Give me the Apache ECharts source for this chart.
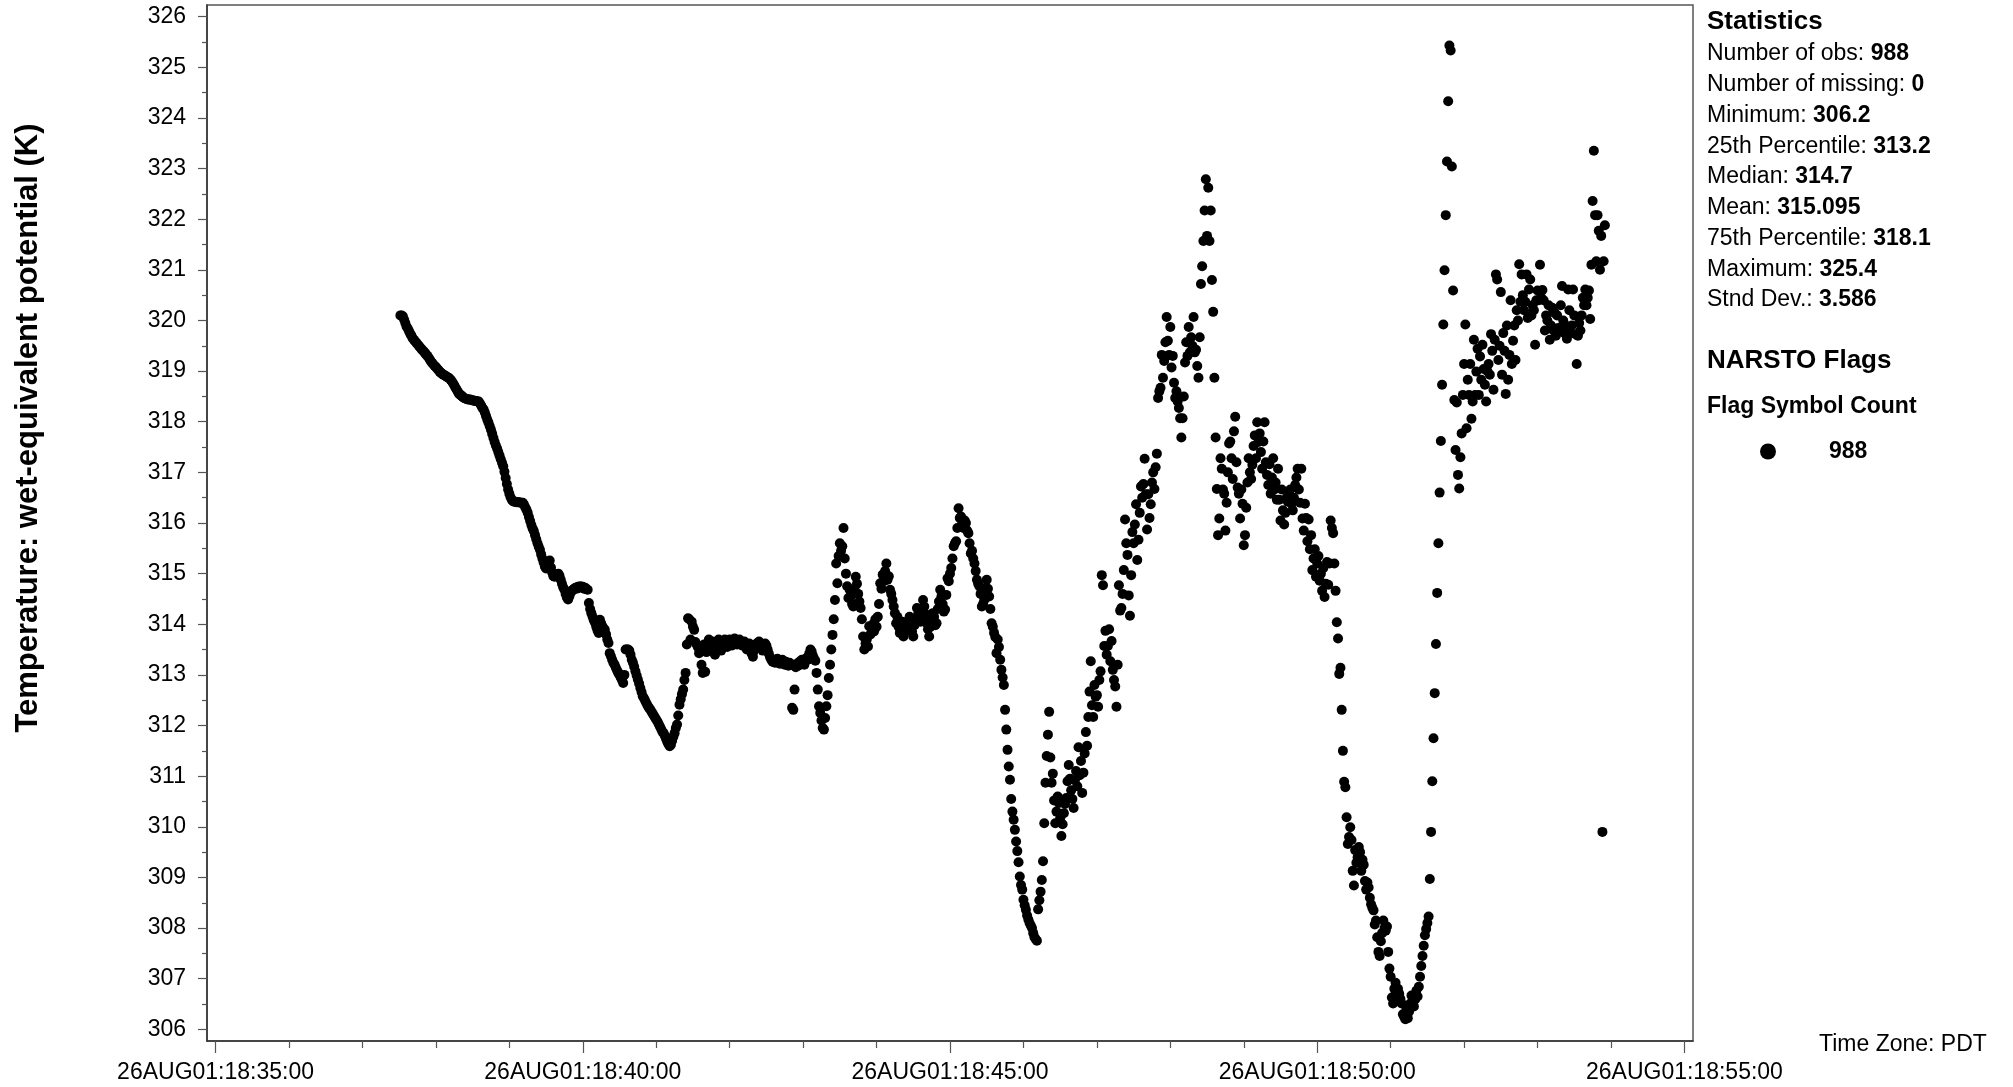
<!DOCTYPE html>
<html>
<head>
<meta charset="utf-8">
<script src="https://cdn.jsdelivr.net/npm/echarts@6/dist/echarts.min.js"></script>
<style>
html,body{margin:0;padding:0;background:#fff;}
#chart{width:2013px;height:1087px;}
</style>
</head>
<body>
<div id="chart"></div>
<script>
// ---------------- data ----------------
// first observation time (UTC fields used only as a wall-clock carrier) and sampling step
const startDateTime = [2001, 7, 26, 18, 37, 31];
const sampleStepSeconds = 1;

// wet-equivalent potential temperature (K), one value per second
const thetaE = [
320.10,320.10,320.08,320.02,319.95,319.88,319.84,319.79,319.74,319.70,
319.65,319.62,319.59,319.56,319.53,319.50,319.47,319.44,319.41,319.39,
319.36,319.33,319.30,319.27,319.23,319.19,319.16,319.13,319.10,319.08,
319.05,319.02,318.99,318.97,318.95,318.93,318.92,318.90,318.89,318.87,
318.86,318.83,318.80,318.76,318.72,318.67,318.63,318.59,318.55,318.53,
318.51,318.49,318.47,318.46,318.45,318.44,318.44,318.44,318.43,318.42,
318.42,318.41,318.41,318.40,318.40,
318.36,318.32,318.27,318.24,318.18,318.11,318.04,317.98,317.91,317.84,
317.76,317.68,317.60,317.53,317.47,317.40,317.33,317.26,317.19,317.12,
317.01,316.89,316.77,316.66,316.58,316.51,316.46,316.43,316.42,316.42,
316.41,316.41,316.41,316.40,316.40,
316.40,316.36,316.31,316.26,316.20,316.12,316.04,315.96,315.89,315.84,
315.76,315.68,315.60,315.53,315.47,315.38,315.30,315.22,315.14,315.10,
315.15,315.22,315.26,315.12,315.02,314.95,314.94,314.96,314.99,315.00,
314.96,314.88,314.80,314.73,314.68,314.60,314.53,314.49,314.55,314.62,
314.66,314.68,314.70,314.72,314.70,314.74,314.72,314.75,314.73,314.74,
314.70,314.72,314.69,314.68,314.42,314.30,314.22,314.15,314.08,314.03,
313.95,313.88,313.83,314.09,314.02,313.96,313.92,313.89,313.80,313.70,
313.63,313.43,313.37,313.30,313.24,313.20,313.14,313.09,313.04,313.00,
312.95,312.90,312.84,313.00,313.50,313.50,313.50,313.48,313.40,313.30,
313.24,313.16,313.07,312.99,312.91,312.83,312.74,312.66,312.58,312.54,
312.49,312.44,312.39,312.35,312.32,312.28,312.24,312.20,312.16,312.12,
312.08,312.03,311.98,311.93,311.88,311.85,311.80,311.74,311.68,311.63,
311.59,311.62,311.70,311.78,311.85,311.95,312.02,312.20,312.41,312.52,
312.62,312.71,312.90,313.04,313.60,314.12,314.10,313.70,314.05,313.95,
313.89,313.65,313.60,313.55,313.43,313.50,313.20,313.04,313.60,313.06,
313.45,313.62,313.70,313.55,313.48,313.66,313.58,313.40,313.52,313.64,
313.70,313.60,313.48,313.56,313.66,313.70,313.62,313.55,313.66,313.70,
313.64,313.58,313.68,313.72,313.66,313.60,313.67,313.70,313.64,313.58,
313.62,313.66,313.58,313.50,313.55,313.62,313.50,313.42,313.36,313.48,
313.56,313.62,313.58,313.66,313.62,313.55,313.48,313.56,313.62,313.58,
313.50,313.42,313.35,313.30,313.26,313.30,313.24,313.28,313.32,313.26,
313.22,313.28,313.30,313.24,313.20,313.26,313.22,313.18,313.24,313.20,
312.35,312.31,312.71,313.15,313.22,313.18,313.26,313.22,313.30,313.25,
313.20,313.28,313.34,313.30,313.42,313.50,313.46,313.38,313.32,313.28,
313.04,312.71,312.38,312.25,312.10,311.95,311.92,312.15,312.38,312.60,
312.94,313.20,313.50,313.79,314.10,314.48,315.20,314.81,315.35,315.60,
315.45,315.54,315.90,315.30,315.00,314.75,314.52,314.68,314.55,314.40,
314.35,314.70,314.94,314.80,314.60,314.45,314.32,314.10,313.76,313.50,
313.62,313.70,313.56,313.96,313.80,313.90,314.00,313.86,314.10,313.95,
314.15,314.40,314.81,314.70,314.98,314.85,315.05,315.20,314.88,314.95,
314.68,314.60,314.48,314.35,314.22,314.02,314.15,313.95,313.83,313.90,
314.05,313.76,313.85,313.96,314.05,313.90,314.15,314.02,313.85,313.76,
313.98,314.10,314.32,314.20,314.15,314.05,314.30,314.48,314.35,314.20,
314.02,313.90,313.76,313.95,314.10,314.22,314.15,313.98,314.02,314.30,
314.45,314.68,314.55,314.40,314.25,314.29,314.58,314.91,314.85,315.00,
315.11,315.30,315.54,315.60,315.64,315.90,316.29,316.10,316.13,316.00,
315.90,316.05,316.00,315.85,315.80,315.60,315.40,315.45,315.30,315.20,
315.05,314.88,314.80,314.75,314.60,314.35,314.40,314.48,314.70,314.88,
314.70,314.55,314.30,314.02,313.95,313.83,313.75,313.43,313.70,313.55,
313.30,313.10,312.95,312.80,312.31,311.92,311.52,311.19,310.93,310.55,
310.30,310.14,309.94,309.71,309.52,309.30,309.02,308.85,308.76,308.56,
308.45,308.36,308.25,308.17,308.10,308.05,308.00,307.90,307.82,307.78,
307.75,308.37,308.55,308.72,308.95,309.32,310.07,310.87,311.40,311.82,
312.27,311.37,310.87,311.05,310.52,310.07,310.30,310.60,310.47,310.17,
309.82,310.05,310.27,310.45,310.57,310.90,311.22,310.95,310.72,310.55,
310.37,310.92,311.10,310.80,311.57,311.02,311.30,310.67,311.07,311.45,
311.87,311.60,312.17,312.67,313.27,312.40,312.17,312.80,312.57,312.60,
312.37,312.90,313.07,314.97,314.77,313.57,313.87,313.40,313.57,313.90,
313.27,313.67,313.10,312.90,312.77,312.37,313.20,314.77,314.27,314.32,
314.60,315.07,316.07,315.60,315.37,314.57,314.17,314.97,315.82,315.60,
315.97,
316.37,315.27,315.67,316.20,316.72,316.50,316.77,317.27,316.57,
315.87,316.57,316.10,316.37,316.80,317.00,316.67,317.10,317.37,318.47,
318.60,318.67,319.32,318.87,319.20,319.57,320.07,319.60,319.32,319.87,
319.07,319.30,318.77,318.47,318.60,318.40,318.27,318.07,317.69,318.07,
318.50,319.17,319.57,319.30,319.87,319.37,319.67,319.50,320.07,319.37,
319.42,319.10,318.87,319.67,320.72,321.07,321.57,322.17,322.79,321.67,
322.62,321.57,322.17,320.80,320.17,318.87,317.69,316.67,
315.76,316.09,317.28,317.07,316.66,316.58,315.85,316.40,317.00,317.57,
317.61,317.28,316.87,317.81,318.10,317.20,316.70,316.58,316.09,316.66,
316.38,315.56,315.76,316.30,
316.80,317.28,317.00,316.87,317.15,317.52,317.73,317.28,317.99,317.60,
317.77,317.40,317.07,317.61,317.99,317.20,316.95,316.75,317.16,316.58,
316.90,317.28,316.66,316.80,316.46,317.07,316.46,316.05,316.66,316.25,
315.97,316.20,316.50,316.42,316.55,316.66,316.38,316.25,316.50,316.75,
316.90,317.07,316.66,316.40,317.07,316.09,315.85,316.38,316.10,315.64,
316.07,315.48,315.76,315.07,315.30,315.48,314.94,315.20,315.35,314.86,
315.00,314.66,315.11,314.54,314.80,315.23,314.78,315.20,316.05,315.90,
315.80,315.20,314.66,314.04,313.72,313.02,313.14,312.31,
311.50,310.89,310.78,310.19,309.66,309.80,309.99,309.74,309.13,308.84,
309.54,309.29,309.40,309.60,309.50,309.13,309.35,309.25,308.93,308.76,
308.90,308.80,308.60,308.47,308.40,308.35,308.07,308.15,307.82,307.53,
307.45,307.74,307.90,308.15,308.00,307.95,308.03,307.53,307.20,307.04,
306.63,306.51,306.80,306.92,306.59,306.80,306.70,306.60,306.51,306.30,
306.25,306.20,306.40,306.22,306.35,306.51,306.67,306.55,306.45,306.59,
306.76,306.65,306.84,307.04,307.25,307.45,307.65,307.86,307.98,308.10,
308.23,308.97,309.90,310.90,311.75,312.64,313.61,314.62,315.60,316.60,
317.62,318.73,319.92,320.99,322.08,323.14,324.33,325.43,325.33,323.04,
320.59,318.43,317.44,318.38,316.95,316.68,317.30,317.77,318.53,319.14,
319.92,317.87,318.83,318.53,319.14,318.06,318.40,319.62,318.53,318.99,
319.44,318.53,319.29,318.83,319.52,319.04,318.73,318.40,319.00,319.14,
318.93,319.73,319.40,318.63,319.62,320.91,320.81,319.22,319.50,320.56,
318.93,319.75,319.40,318.55,319.90,318.83,319.32,320.40,319.14,319.60,
319.90,319.22,320.20,320.00,321.11,320.37,320.91,320.50,320.20,320.37,
320.91,320.05,320.61,320.81,320.10,320.30,320.20,319.52,320.40,320.59,
320.40,321.10,320.45,320.60,320.40,319.80,320.10,320.00,320.30,319.62,
319.90,320.25,319.80,320.15,319.70,320.10,319.85,319.80,320.30,320.68,
320.00,319.75,319.90,319.64,320.61,320.20,319.75,319.90,320.61,320.10,
319.73,319.14,319.70,319.95,319.80,320.10,320.45,320.30,320.61,320.30,
320.45,320.59,320.03,321.10,322.36,323.35,322.08,321.17,322.08,321.77,
321.00,321.67,309.90,321.17,321.88
];

// axes
const xAxisRangeTimes = ['18:34:53', '18:55:07'];
const xTickTimes  = ['18:35:00', '18:40:00', '18:45:00', '18:50:00', '18:55:00'];
const xTickLabels = ['26AUG01:18:35:00', '26AUG01:18:40:00', '26AUG01:18:45:00', '26AUG01:18:50:00', '26AUG01:18:55:00'];
const xMinorTickTimes = ['18:36:00','18:37:00','18:38:00','18:39:00','18:41:00','18:42:00','18:43:00','18:44:00',
  '18:46:00','18:47:00','18:48:00','18:49:00','18:51:00','18:52:00','18:53:00','18:54:00'];
const yAxisRange = [305.77, 326.23];
const yTickValues = [306,307,308,309,310,311,312,313,314,315,316,317,318,319,320,321,322,323,324,325,326];
const yMinorTickValues = [306.5,307.5,308.5,309.5,310.5,311.5,312.5,313.5,314.5,315.5,316.5,317.5,318.5,319.5,320.5,321.5,322.5,323.5,324.5,325.5];
const yAxisTitle = 'Temperature: wet-equivalent potential (K)';

// side panel texts
const statsTitle = 'Statistics';
const statLabels = ['Number of obs', 'Number of missing', 'Minimum', '25th Percentile', 'Median', 'Mean', '75th Percentile', 'Maximum', 'Stnd Dev.'];
const statValues = ['988', '0', '306.2', '313.2', '314.7', '315.095', '318.1', '325.4', '3.586'];
const flagsTitle = 'NARSTO Flags';
const flagHeader = 'Flag Symbol Count';
const flagSymbolCount = '988';
const timeZoneText = 'Time Zone: PDT';

// ---------------- chart ----------------
const FONT = '"Liberation Sans", Arial, Helvetica, sans-serif';
function toMs(hms) {
  const p = hms.split(':').map(Number);
  return Date.UTC(startDateTime[0], startDateTime[1], startDateTime[2], p[0], p[1], p[2]);
}
const t0 = Date.UTC.apply(null, startDateTime);
const points = thetaE.map((v, i) => [t0 + i * sampleStepSeconds * 1000, v]);
const xMin = toMs(xAxisRangeTimes[0]), xMax = toMs(xAxisRangeTimes[1]);
const xMajor = xTickTimes.map(toMs);
const xMinor = xMinorTickTimes.map(toMs);

function xLabel(v) {
  for (let i = 0; i < xMajor.length; i++) if (Math.abs(xMajor[i] - v) < 500) return xTickLabels[i];
  return '';
}

const axisLineStyle = { color: '#333', width: 1.5 };
const tickLineStyle = { color: '#555', width: 1.2 };
const dy = 1.5;

const graphics = [];
graphics.push({
  type: 'text', x: 28, y: 428, rotation: Math.PI / 2,
  style: { text: yAxisTitle, font: `bold 31px ${FONT}`, fill: '#000', align: 'center', verticalAlign: 'middle' }
});
graphics.push({
  type: 'text', x: 1707, y: 20 + dy,
  style: { text: statsTitle, font: `bold 26px ${FONT}`, fill: '#000', verticalAlign: 'middle' }
});
statLabels.forEach((lab, i) => {
  graphics.push({
    type: 'text', x: 1707, y: 52.5 + dy + i * 30.75,
    style: {
      text: `{l|${lab}: }{b|${statValues[i]}}`,
      verticalAlign: 'middle',
      rich: {
        l: { font: `23px ${FONT}`, fill: '#000' },
        b: { font: `bold 23px ${FONT}`, fill: '#000' }
      }
    }
  });
});
graphics.push({
  type: 'text', x: 1707, y: 359 + dy,
  style: { text: flagsTitle, font: `bold 26px ${FONT}`, fill: '#000', verticalAlign: 'middle' }
});
graphics.push({
  type: 'text', x: 1707, y: 405 + dy,
  style: { text: flagHeader, font: `bold 23px ${FONT}`, fill: '#000', verticalAlign: 'middle' }
});
graphics.push({
  type: 'text', x: 1819, y: 1043 + dy,
  style: { text: timeZoneText, font: `23px ${FONT}`, fill: '#000', verticalAlign: 'middle' }
});

const chart = echarts.init(document.getElementById('chart'), null, { renderer: 'canvas' });
chart.setOption({
  animation: false,
  backgroundColor: '#ffffff',
  grid: { left: 207, top: 5, right: 320, bottom: 46, show: true, borderColor: '#555', borderWidth: 1.5, outerBoundsMode: 'none' },
  legend: {
    show: true, left: 1760, top: 440, padding: 0,
    icon: 'circle', itemWidth: 16, itemHeight: 16,
    data: ['flag'],
    formatter: () => flagSymbolCount,
    textStyle: { fontFamily: FONT, fontSize: 23, fontWeight: 'bold', color: '#000', padding: [0, 0, 0, 48] },
    itemStyle: { opacity: 1 },
    selectedMode: false
  },
  xAxis: [
    {
      type: 'value', min: xMin, max: xMax, position: 'bottom',
      axisLine: { show: true, onZero: false, lineStyle: axisLineStyle },
      axisTick: { show: true, customValues: xMajor, length: 12, lineStyle: tickLineStyle },
      axisLabel: { show: true, customValues: xMajor, formatter: xLabel, fontFamily: FONT, fontSize: 23, color: '#000', margin: 20 },
      splitLine: { show: false }
    },
    {
      type: 'value', min: xMin, max: xMax, position: 'bottom',
      axisLine: { show: false, onZero: false },
      axisTick: { show: true, customValues: xMinor, length: 7, lineStyle: tickLineStyle },
      axisLabel: { show: false, customValues: xMinor },
      splitLine: { show: false }
    }
  ],
  yAxis: [
    {
      type: 'value', min: yAxisRange[0], max: yAxisRange[1], position: 'left',
      axisLine: { show: true, onZero: false, lineStyle: axisLineStyle },
      axisTick: { show: true, customValues: yTickValues, length: 9, lineStyle: tickLineStyle },
      axisLabel: { show: true, customValues: yTickValues, fontFamily: FONT, fontSize: 23, color: '#000', margin: 21 },
      splitLine: { show: false }
    },
    {
      type: 'value', min: yAxisRange[0], max: yAxisRange[1], position: 'left',
      axisLine: { show: false, onZero: false },
      axisTick: { show: true, customValues: yMinorTickValues, length: 5, lineStyle: tickLineStyle },
      axisLabel: { show: false, customValues: yMinorTickValues },
      splitLine: { show: false }
    }
  ],
  series: [{
    name: 'flag', type: 'scatter', xAxisIndex: 0, yAxisIndex: 0,
    symbol: 'circle', symbolSize: 10,
    itemStyle: { color: '#000', opacity: 1 },
    data: points, silent: true, large: false
  }],
  graphic: graphics
});
</script>
</body>
</html>
